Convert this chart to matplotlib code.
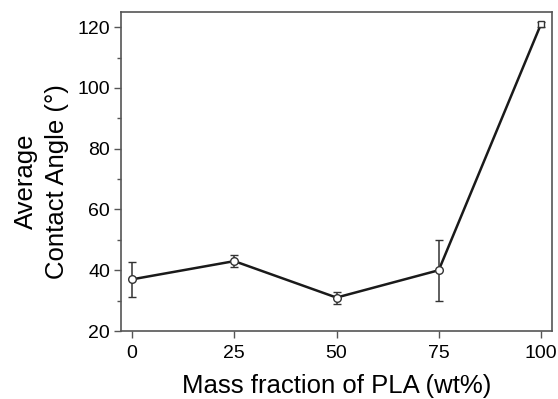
import matplotlib
matplotlib.use("Agg")
import matplotlib.pyplot as plt
from matplotlib.ticker import MultipleLocator

plt.rcParams['font.family'] = ['Liberation Sans', 'DejaVu Sans']

mass_fraction = [0, 25, 50, 75, 100]
contact_angle = [37, 43, 31, 40, 121]
errors = [5.7, 2, 2, 10, 0.8]
xticks = [0, 25, 50, 75, 100]
yticks = [20, 40, 60, 80, 100, 120]

fig = plt.figure(figsize=(5.58, 3.99), dpi=100)
ax = fig.add_axes([121/558, 1-331/399, (552-121)/558, (331-12)/399])

ax.errorbar(mass_fraction[:4], contact_angle[:4], yerr=errors[:4], color='#1a1a1a',
            lw=1.8, marker='o', ms=5.5, mfc='white', mec='#333333', mew=1.0,
            capsize=3, elinewidth=1.1, ecolor='#333333', capthick=1.1, zorder=3)
ax.plot(mass_fraction[3:], contact_angle[3:], color='#1a1a1a', lw=1.8, zorder=2)
ax.errorbar(mass_fraction[4:], contact_angle[4:], yerr=errors[4:], color='#1a1a1a',
            marker='s', ms=4.5, mfc='white', mec='#333333', mew=1.0, ls='none',
            capsize=3, elinewidth=1.0, ecolor='#333333', zorder=3)

ax.set_xlim(-2.7, 102.7)
ax.set_ylim(20, 125)
ax.set_xticks(xticks)
ax.set_yticks(yticks)
ax.yaxis.set_minor_locator(MultipleLocator(10))
ax.tick_params(axis='both', which='major', direction='out', length=5, width=1.0,
               color='#555555', labelsize=14)
ax.tick_params(axis='x', which='major', pad=5)
ax.tick_params(axis='y', which='major', pad=3)
ax.tick_params(axis='y', which='minor', direction='out', length=3, width=1.0, color='#555555')
for s in ax.spines.values():
    s.set_color('#555555')
    s.set_linewidth(1.2)

ax.set_xlabel('Mass fraction of PLA (wt%)', fontsize=18.5, labelpad=9)
ax.set_ylabel('Average\nContact Angle (°)', fontsize=18.5, linespacing=1.4)
ax.yaxis.set_label_coords(-0.12, 0.47)

fig.savefig('out.png', dpi=100)
